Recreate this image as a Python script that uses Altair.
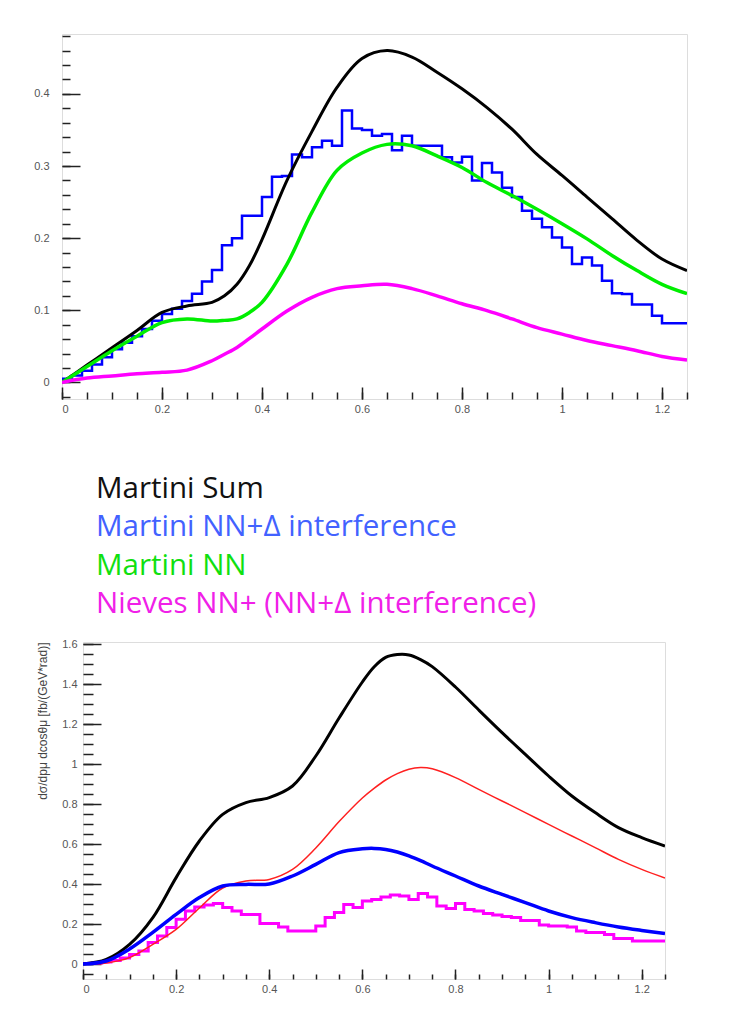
import altair as alt
import pandas as pd

# ---------------- top panel data ----------------
top_x = [0, 0.05, 0.1, 0.15, 0.2, 0.25, 0.3, 0.325, 0.35, 0.375, 0.4, 0.45, 0.5, 0.55, 0.6,
         0.65, 0.7, 0.75, 0.8, 0.85, 0.9, 0.95, 1.0, 1.05, 1.1, 1.15, 1.2, 1.25]
top_sum = [0, 0.024, 0.048, 0.072, 0.097, 0.106, 0.111, 0.120, 0.136, 0.162, 0.198, 0.280, 0.348,
           0.409, 0.449, 0.460, 0.451, 0.430, 0.407, 0.381, 0.351, 0.316, 0.287, 0.257, 0.227,
           0.197, 0.171, 0.155]
top_nn = [0, 0.022, 0.044, 0.064, 0.083, 0.088, 0.085, 0.086, 0.088, 0.097, 0.111, 0.164, 0.236,
          0.294, 0.318, 0.330, 0.328, 0.314, 0.298, 0.277, 0.259, 0.240, 0.220, 0.199, 0.176,
          0.155, 0.136, 0.123]
top_nieves = [0, 0.006, 0.009, 0.012, 0.014, 0.017, 0.030, 0.039, 0.0485, 0.061, 0.074, 0.099, 0.118,
              0.130, 0.134, 0.136, 0.130, 0.120, 0.109, 0.0995, 0.088, 0.076, 0.067, 0.058, 0.051,
              0.044, 0.036, 0.031]
top_hist_bin = 0.02
top_hist = [0.005, 0.0095, 0.016, 0.025, 0.035, 0.046, 0.055, 0.064, 0.074, 0.0856, 0.095,
            0.102, 0.113, 0.123, 0.140, 0.156, 0.190, 0.200, 0.231, 0.231, 0.257, 0.285, 0.286,
            0.316, 0.312, 0.326, 0.335, 0.328, 0.377, 0.352,
            0.350, 0.342, 0.3445, 0.322, 0.342, 0.328, 0.328, 0.328, 0.312, 0.305, 0.313, 0.280,
            0.304, 0.291, 0.270, 0.257, 0.238, 0.227, 0.215, 0.201, 0.187, 0.164, 0.173, 0.162,
            0.141, 0.1235, 0.1225, 0.108, 0.108, 0.0925, 0.082, 0.082, 0.082]

# ---------------- bottom panel data ----------------
bot_x = [0, 0.05, 0.1, 0.15, 0.2, 0.25, 0.3, 0.35, 0.4, 0.45, 0.5, 0.55, 0.6, 0.625, 0.65,
         0.675, 0.7, 0.725, 0.75, 0.8, 0.85, 0.9, 0.95, 1.0, 1.05, 1.1, 1.15, 1.2, 1.25]
bot_black = [0, 0.023, 0.098, 0.232, 0.432, 0.615, 0.748, 0.807, 0.832, 0.89, 1.04, 1.23, 1.41,
             1.485, 1.533, 1.547, 1.545, 1.522, 1.487, 1.385, 1.27, 1.157, 1.048, 0.94, 0.84,
             0.757, 0.682, 0.632, 0.59]
bot_red = [0, 0.005, 0.032, 0.098, 0.173, 0.28, 0.38, 0.415, 0.423, 0.473, 0.58, 0.712, 0.83,
           0.878, 0.92, 0.952, 0.974, 0.982, 0.976, 0.932, 0.873, 0.815, 0.757, 0.698, 0.64,
           0.582, 0.523, 0.473, 0.43]
bot_blue = [0, 0.015, 0.075, 0.158, 0.248, 0.332, 0.39, 0.398, 0.40, 0.44, 0.498, 0.557, 0.576,
            0.578, 0.573, 0.56, 0.541, 0.517, 0.49, 0.44, 0.39, 0.348, 0.307, 0.265, 0.232,
            0.207, 0.185, 0.168, 0.153]
bot_hist_bin = 0.02
bot_hist = [0.002, 0.005, 0.01, 0.017, 0.03, 0.048, 0.065, 0.107, 0.14, 0.182,
            0.224, 0.265, 0.285, 0.295, 0.302, 0.282, 0.265, 0.248, 0.248, 0.202, 0.202, 0.185,
            0.165, 0.165, 0.165, 0.19, 0.232, 0.257, 0.298, 0.282,
            0.315, 0.323, 0.335, 0.345, 0.34, 0.323, 0.352, 0.335, 0.29, 0.278, 0.302, 0.273,
            0.265, 0.252, 0.245, 0.238, 0.232, 0.218, 0.218, 0.195, 0.19, 0.19, 0.185, 0.165,
            0.157, 0.157, 0.148, 0.127, 0.127, 0.115, 0.115, 0.115, 0.115]

# ---------------- legend text ----------------
legend_labels = ["Martini Sum", "Martini NN+Δ interference", "Martini NN",
                 "Nieves NN+ (NN+Δ interference)"]
legend_colors = ["#111111", "#4262ff", "#10e010", "#f020e8"]

# ---------------- axis ticks ----------------
x_domain = [0, 1.25]
x_major = [0, 0.2, 0.4, 0.6, 0.8, 1, 1.2]
x_minor = [round(0.05 * i, 2) for i in range(26)]
top_y_domain = [-0.023, 0.483]
top_y_major = [0, 0.1, 0.2, 0.3, 0.4]
top_y_minor = [round(-0.02 + 0.02 * i, 2) for i in range(26)]
bot_y_domain = [-0.075, 1.61]
bot_y_major = [0, 0.2, 0.4, 0.6, 0.8, 1, 1.2, 1.4, 1.6]
bot_y_minor = [round(-0.05 + 0.05 * i, 2) for i in range(34)]
bot_y_title = "dσ/dpμ dcosθμ [fb/(GeV*rad)]"

LFONT = "Liberation Sans"


def hist_frame(vals, width):
    xs = [round(width * i, 4) for i in range(len(vals))] + [x_domain[1]]
    ys = list(vals) + [vals[-1]]
    return pd.DataFrame({"x": xs, "y": ys})


def axes(xmaj_len, xmin_len, ymaj_len, ymin_len, y_major, y_minor, ytitle, ytitle_pad, ylab_pad):
    common = dict(domain=False, grid=False, tickColor="#222", tickWidth=1.5,
                  labelFont=LFONT, labelFontSize=11, labelColor="#555")
    xM = alt.Axis(values=x_major, format="~g", tickSize=xmaj_len, offset=-xmaj_len,
                  labelPadding=4, orient="bottom", title=None, **common)
    xm = alt.Axis(values=x_minor, tickSize=xmin_len, offset=-xmin_len, labels=False,
                  orient="bottom", title=None, **common)
    yargs = dict(values=y_major, format="~g", tickSize=ymaj_len, offset=-ymaj_len,
                 labelPadding=ylab_pad, orient="left", **common)
    if ytitle:
        yM = alt.Axis(title=ytitle, titleAnchor="end", titleFont=LFONT, titleFontSize=12,
                      titleFontWeight="normal", titleColor="#444", titlePadding=ytitle_pad, **yargs)
    else:
        yM = alt.Axis(title=None, **yargs)
    ym = alt.Axis(values=y_minor, tickSize=ymin_len, offset=-ymin_len, labels=False,
                  orient="left", title=None, **common)
    return xM, xm, yM, ym


def panel(curves, hist_vals, hist_bin, hist_style, y_domain, y_major, y_minor, w, h,
          lens, ytitle=None, ytitle_pad=0, ylab_pad=6):
    xs = alt.Scale(domain=x_domain, nice=False, zero=False)
    ys = alt.Scale(domain=y_domain, nice=False, zero=False)
    xM, xm, yM, ym = axes(*lens, y_major, y_minor, ytitle, ytitle_pad, ylab_pad)
    layers = []
    # histogram layer carries the minor ticks
    hdf = hist_frame(hist_vals, hist_bin)
    layers.append(
        alt.Chart(hdf).mark_line(interpolate="step-after", color=hist_style[0],
                                 strokeWidth=hist_style[1], clip=True).encode(
            x=alt.X("x:Q", scale=xs, axis=xm),
            y=alt.Y("y:Q", scale=ys, axis=ym),
        )
    )
    for i, (xv, yv, color, sw) in enumerate(curves):
        df = pd.DataFrame({"x": xv, "y": yv})
        layers.append(
            alt.Chart(df).mark_line(interpolate="catmull-rom", color=color, strokeWidth=sw,
                                    clip=True).encode(
                x=alt.X("x:Q", scale=xs, axis=xM if i == 0 else None),
                y=alt.Y("y:Q", scale=ys, axis=yM if i == 0 else None),
            )
        )
    return alt.layer(*layers).resolve_axis(x="independent", y="independent").properties(
        width=w, height=h)


top = panel(
    curves=[(top_x, top_sum, "#000000", 3), (top_x, top_nn, "#00ee00", 3.5),
            (top_x, top_nieves, "#ff00ff", 3.5)],
    hist_vals=top_hist, hist_bin=top_hist_bin, hist_style=("#0000ff", 2.5),
    y_domain=top_y_domain, y_major=top_y_major, y_minor=top_y_minor,
    w=625, h=365, lens=(12, 7, 18, 8), ylab_pad=13,
)

bottom = panel(
    curves=[(bot_x, bot_black, "#000000", 3), (bot_x, bot_red, "#ff2020", 1.5),
            (bot_x, bot_blue, "#0000ff", 3.5)],
    hist_vals=bot_hist, hist_bin=bot_hist_bin, hist_style=("#ff00ff", 3),
    y_domain=bot_y_domain, y_major=bot_y_major, y_minor=bot_y_minor,
    w=582, h=337, lens=(10, 5, 18, 10), ytitle=bot_y_title, ytitle_pad=12, ylab_pad=6,
)

leg_df = pd.DataFrame({"label": legend_labels})
legend = alt.Chart(leg_df).mark_text(align="left", baseline="middle", font="Open Sans",
                                     fontSize=29.5).encode(
    x=alt.value(34),
    y=alt.Y("label:N", sort=None, axis=None,
            scale=alt.Scale(type="point", range=[90, 205], padding=0)),
    text="label:N",
    color=alt.Color("label:N", sort=None,
                    scale=alt.Scale(domain=legend_labels, range=legend_colors), legend=None),
).properties(width=625, height=243, view=alt.ViewBackground(stroke="transparent"))

spacer = alt.Chart(pd.DataFrame({"a": [0]})).mark_point(opacity=0).properties(
    width=21, height=337, view=alt.ViewBackground(stroke="transparent"))

chart = alt.vconcat(
    top, legend, alt.hconcat(spacer, bottom, spacing=0, bounds="flush"),
    spacing=0, bounds="flush",
).properties(
    padding={"left": 25, "top": 25, "right": 5, "bottom": 5},
).configure_view(stroke="#555", strokeWidth=2).configure(background="white")

chart.save("out.html", embed_options={"renderer": "svg", "actions": False})
